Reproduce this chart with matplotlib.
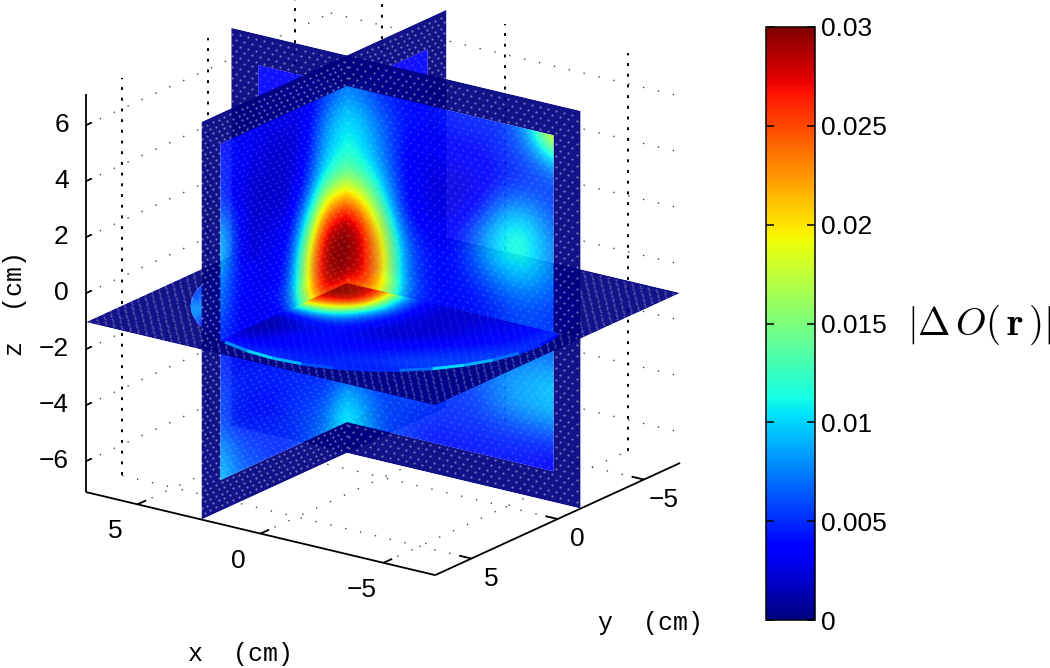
import numpy as np
import matplotlib
matplotlib.use('Agg')
import matplotlib.pyplot as plt
from matplotlib.cm import ScalarMappable
from matplotlib.collections import LineCollection
from matplotlib.colors import Normalize
from matplotlib.patches import PathPatch
from matplotlib.path import Path
from matplotlib.transforms import Affine2D

plt.rcParams['font.family'] = ['Liberation Sans', 'DejaVu Sans']
plt.rcParams['mathtext.fontset'] = 'cm'

# slice values, in units of 0.001
# rows z = 6..-6, columns y = 6..-6
slice_x = [
    [4, 4, 3, 3, 3, 3, 5, 7, 7, 4, 4, 4, 4],
    [5, 4, 3, 2, 2, 3, 8, 10, 10, 4, 3, 3, 3],
    [5, 3, 2, 2, 2, 4, 9, 11, 11, 4, 3, 3, 3],
    [9, 4, 2, 2, 2, 5, 12, 13, 13, 4, 3, 3, 3],
    [11, 4, 2, 3, 3, 10, 22, 23, 22, 5, 3, 3, 3],
    [8, 4, 3, 3, 4, 17, 29, 30, 30, 5, 3, 3, 3],
    [7, 4, 3, 3, 6, 20, 30, 30, 30, 5, 3, 3, 3],
    [5, 4, 3, 3, 5, 18, 29, 29, 29, 4, 3, 3, 3],
    [5, 4, 4, 4, 4, 6, 9, 10, 10, 4, 3, 3, 3],
    [6, 5, 5, 5, 5, 5, 5, 5, 5, 4, 4, 4, 4],
    [6, 4, 4, 4, 5, 5, 5, 5, 5, 4, 4, 4, 4],
    [9, 6, 5, 5, 5, 6, 6, 9, 9, 4, 4, 4, 4],
    [10, 7, 6, 5, 5, 6, 8, 11, 11, 4, 4, 4, 4],
]
# rows z = 6..-6, columns x = 6..-6
slice_y = [
    [4, 4, 4, 7, 7, 5, 4, 4, 5, 5, 5, 9, 22],
    [3, 3, 3, 10, 10, 7, 4, 4, 4, 4, 5, 6, 9],
    [3, 3, 3, 11, 11, 8, 3, 3, 3, 3, 4, 5, 5],
    [3, 3, 3, 13, 13, 10, 3, 3, 2, 3, 8, 9, 6],
    [3, 3, 3, 22, 22, 14, 3, 3, 3, 7, 12, 12, 7],
    [3, 3, 4, 30, 30, 20, 6, 4, 4, 8, 11, 11, 7],
    [3, 3, 4, 30, 30, 22, 7, 4, 4, 5, 7, 7, 6],
    [3, 3, 4, 29, 29, 22, 6, 4, 4, 4, 5, 6, 5],
    [3, 3, 4, 9, 9, 6, 4, 4, 4, 5, 6, 7, 7],
    [3, 3, 3, 5, 5, 5, 5, 5, 5, 6, 8, 9, 10],
    [3, 3, 3, 5, 5, 5, 6, 6, 5, 6, 8, 9, 9],
    [3, 3, 3, 9, 9, 6, 6, 5, 5, 5, 5, 5, 5],
    [3, 3, 3, 11, 11, 6, 5, 4, 4, 4, 4, 4, 3],
]
# rows y = 6..-6, columns x = 6..-6
slice_z = [
    [3, 3, 3, 4, 5, 5, 5, 5, 5, 4, 3, 3, 3],
    [3, 8, 6, 2, 2, 3, 4, 4, 5, 5, 5, 3, 3],
    [3, 10, 6, 1, 1, 3, 4, 4, 4, 5, 6, 6, 3],
    [5, 9, 4, 1, 1, 2, 3, 3, 3, 4, 5, 6, 5],
    [6, 5, 3, 3, 6, 6, 5, 2, 2, 3, 4, 5, 6],
    [6, 4, 3, 22, 22, 16, 6, 3, 2, 2, 3, 4, 5],
    [6, 3, 3, 30, 30, 28, 10, 3, 2, 2, 3, 3, 5],
    [6, 3, 3, 30, 30, 28, 8, 3, 2, 2, 3, 3, 5],
    [6, 3, 3, 28, 28, 26, 6, 3, 2, 2, 2, 3, 5],
    [5, 3, 3, 5, 5, 4, 3, 3, 3, 3, 3, 3, 5],
    [4, 3, 3, 3, 3, 3, 3, 3, 3, 3, 3, 4, 4],
    [3, 3, 3, 3, 3, 3, 3, 3, 3, 3, 4, 4, 3],
    [3, 3, 3, 3, 3, 3, 3, 3, 3, 3, 3, 3, 3],
]
# bright rim along the near edge of the disk
rim_angle = [70, 80, 90, 100, 110, 120, 130, 140, 150, 160, 170, 180, 190]
rim_value = [8, 10, 9, 6, 5, 5, 7, 10, 9, 7, 5, 4, 3]

slice_pos_x = 2.4
slice_pos_y = -1.33
slice_pos_z = -1.03
disk_radius = 6.4
lim = 7.1

x_ticks = [5, 0, -5]
y_ticks = [5, 0, -5]
z_ticks = [6, 4, 2, 0, -2, -4, -6]
cbar_ticks = [0, 0.005, 0.01, 0.015, 0.02, 0.025, 0.03]
cbar_labels = ['0', '0.005', '0.01', '0.015', '0.02', '0.025', '0.03']


def project(x, y, z):
    # fixed orthographic view, result in figure pixels
    sx = 383 - 24.6 * np.asarray(x, float) - 17.25 * np.asarray(y, float)
    sy = 278.7 - 5.85 * np.asarray(x, float) + 7.9 * np.asarray(y, float) - 28 * np.asarray(z, float)
    return sx, sy


def plane_point(axis, u, v):
    # plane coordinates (u, v) to pixels
    if axis == 'x':
        return project(slice_pos_x, u, v)
    if axis == 'y':
        return project(u, slice_pos_y, v)
    return project(u, v, slice_pos_z)


def closed_path(axis, poly):
    sx, sy = plane_point(axis, *np.array(poly).T)
    return Path(list(zip(sx, sy)) + [(sx[0], sy[0])], closed=True)


def clip_poly(poly, u0, u1, v0, v1):
    # cut a convex polygon down to a rectangle
    for k, limit, sign in [(0, u0, 1), (0, u1, -1), (1, v0, 1), (1, v1, -1)]:
        out = []
        for i in range(len(poly)):
            a, b = poly[i], poly[(i + 1) % len(poly)]
            ina = sign * (a[k] - limit) >= 0
            inb = sign * (b[k] - limit) >= 0
            if ina:
                out.append(a)
            if ina != inb:
                t = (limit - a[k]) / (b[k] - a[k])
                out.append((a[0] + t * (b[0] - a[0]), a[1] + t * (b[1] - a[1])))
        poly = out
    return poly


def draw_piece(ax, axis, grid, u0, u1, v0, v1, order):
    # one quadrant of a slice: dark rim, data image, stipple from the mesh
    alpha = 0.93
    if axis == 'z':
        ang = np.linspace(0, 2 * np.pi, 150, endpoint=False)
        hole = [(disk_radius * np.cos(a), disk_radius * np.sin(a)) for a in ang]
    else:
        hole = [(-6, -6), (6, -6), (6, 6), (-6, 6)]
    outer = [(-lim, -lim), (-lim, lim), (lim, lim), (lim, -lim)]  # opposite way round to the hole
    quad = closed_path(axis, [(u0, v0), (u1, v0), (u1, v1), (u0, v1)])

    # dark part of the plane, cut to this quadrant
    ring = Path.make_compound_path(closed_path(axis, outer), closed_path(axis, hole))
    patch = PathPatch(ring, facecolor=plt.cm.jet(0.0), edgecolor='none', alpha=alpha, zorder=order)
    ax.add_patch(patch)
    patch.set_clip_path(quad, transform=ax.transData)

    # image of the slice, placed by an affine map from plane coordinates
    ox, oy = plane_point(axis, 0.0, 0.0)
    ux, uy = plane_point(axis, 1.0, 0.0)
    vx, vy = plane_point(axis, 0.0, 1.0)
    tr = Affine2D(np.array([[ux - ox, vx - ox, ox], [uy - oy, vy - oy, oy], [0, 0, 1]]))
    im = ax.imshow(np.array(grid) * 1e-3, cmap='jet', vmin=0, vmax=0.03, origin='upper',
                   extent=(6.5, -6.5, -6.5, 6.5),
                   interpolation='bicubic', interpolation_stage='data', alpha=alpha,
                   aspect='auto', zorder=order + 0.1, transform=tr + ax.transData)
    im.set_clip_path(closed_path(axis, clip_poly(hole, u0, u1, v0, v1)), transform=ax.transData)

    # stipple, stronger on the dark rim than over the data
    step_u = 0.33
    step_v = 0.2
    uu, vv = np.meshgrid(np.arange(-lim, lim, step_u), np.arange(-lim, lim, step_v))
    uu = uu + step_u / 2 * (np.arange(uu.shape[0])[:, None] % 2)
    keep = (uu > min(u0, u1)) & (uu < max(u0, u1)) & (vv > min(v0, v1)) & (vv < max(v0, v1))
    uu, vv = uu[keep], vv[keep]
    in_data = Path(hole + [hole[0]]).contains_points(np.c_[uu, vv])
    dx, dy = plane_point(axis, uu, vv)
    rim_a = 0.42 if axis != 'z' else 0.25
    data_a = 0.14 if axis != 'z' else 0.06
    ax.scatter(dx[~in_data], dy[~in_data], s=2.5, c='white', alpha=rim_a, linewidths=0, zorder=order + 0.2)
    ax.scatter(dx[in_data], dy[in_data], s=2.5, c='white', alpha=data_a, linewidths=0, zorder=order + 0.2)


fig = plt.figure(figsize=(10.5, 6.68), dpi=100)
ax = fig.add_axes([0, 0, 1, 1])

# grid on the two back walls and the floor
grid_style = dict(color='#444444', lw=1.0, ls=(0, (1, 10)), zorder=1)
vert_style = dict(color='black', lw=1.4, ls=(0, (1.5, 4)), zorder=1)
for zt in z_ticks:
    ax.plot(*project([lim, lim], [lim, -lim], [zt, zt]), **grid_style)
    ax.plot(*project([lim, -lim], [-lim, -lim], [zt, zt]), **grid_style)
for yt in y_ticks:
    ax.plot(*project([lim, lim], [yt, yt], [-lim, lim]), **vert_style)
    ax.plot(*project([lim, -lim], [yt, yt], [-lim, -lim]), **grid_style)
for xt in x_ticks:
    ax.plot(*project([xt, xt], [-lim, -lim], [-lim, lim]), **vert_style)
    ax.plot(*project([xt, xt], [lim, -lim], [-lim, -lim]), **grid_style)

# box edges and ticks
edge_style = dict(color='black', lw=1.3, zorder=2, solid_capstyle='butt')
ax.plot(*project([lim, lim], [lim, lim], [-lim, lim]), **edge_style)
ax.plot(*project([lim, -lim], [lim, lim], [-lim, -lim]), **edge_style)
ax.plot(*project([-lim, -lim], [lim, -lim], [-lim, -lim]), **edge_style)
for zt in z_ticks:
    ax.plot(*project([lim, lim], [lim, lim - 0.35], [zt, zt]), **edge_style)
    sx, sy = project(lim, lim, zt)
    ax.text(sx - 17, sy, str(zt).replace('-', '\u2212'), ha='right', va='center', fontsize=19)
for xt in x_ticks:
    ax.plot(*project([xt, xt], [lim, lim - 0.5], [-lim, -lim]), **edge_style)
    sx, sy = project(xt, lim, -lim)
    ax.text(sx - 22, sy + 27, str(xt).replace('-', '\u2212'), ha='center', va='center', fontsize=19)
for yt in y_ticks:
    ax.plot(*project([-lim, -lim + 0.5], [yt, yt], [-lim, -lim]), **edge_style)
    sx, sy = project(-lim, yt, -lim)
    ax.text(sx + 20, sy + 20, str(yt).replace('-', '\u2212'), ha='center', va='center', fontsize=19)

ax.text(240, 654, 'x  (cm)', family='Liberation Mono', fontsize=18, ha='center', va='center')
ax.text(651, 623, 'y  (cm)', family='Liberation Mono', fontsize=18, ha='center', va='center')
ax.text(15, 303, 'z  (cm)', family='Liberation Mono', fontsize=18, ha='center', va='center', rotation=90)

# split the slices where they cross and paint far to near
view = {'x': -483, 'y': 689, 'z': 295}
positions = {'x': slice_pos_x, 'y': slice_pos_y, 'z': slice_pos_z}
grids = {'x': slice_x, 'y': slice_y, 'z': slice_z}
other_axes = {'x': ('y', 'z'), 'y': ('x', 'z'), 'z': ('x', 'y')}
pieces = []
for axis in 'xyz':
    ua, va = other_axes[axis]
    for u0, u1 in [(-lim, positions[ua]), (positions[ua], lim)]:
        for v0, v1 in [(-lim, positions[va]), (positions[va], lim)]:
            key = np.sign(u0 + u1 - 2 * positions[ua]) * view[ua] + np.sign(v0 + v1 - 2 * positions[va]) * view[va]
            pieces.append((key, axis, u0, u1, v0, v1))
pieces.sort(key=lambda p: p[0])
for i, (key, axis, u0, u1, v0, v1) in enumerate(pieces):
    draw_piece(ax, axis, grids[axis], u0, u1, v0, v1, 3 + i)

# rim of the disk on top of the nearest quadrant
t = np.radians(rim_angle)
rx, ry = project(disk_radius * np.cos(t), disk_radius * np.sin(t), slice_pos_z)
segs = [[(rx[i], ry[i]), (rx[i + 1], ry[i + 1])] for i in range(len(t) - 1)]
rim = LineCollection(segs, cmap='jet', norm=Normalize(0, 30), linewidths=2.2, zorder=20)
rim.set_array(np.array(rim_value[:-1], float))
ax.add_collection(rim)

ax.set_xlim(0, 1050)
ax.set_ylim(668, 0)
ax.axis('off')

# colorbar
cax = fig.add_axes([766 / 1050, 1 - 620 / 668, 49 / 1050, 593 / 668])
cbar = fig.colorbar(ScalarMappable(Normalize(0, 0.03), cmap='jet'), cax=cax)
cbar.set_ticks(cbar_ticks, labels=cbar_labels)
cax.tick_params(axis='y', direction='in', left=True, right=True, length=6, width=1.1,
                labelsize=19, pad=4)
cbar.outline.set_linewidth(1.1)
fig.text(979 / 1050, 1 - 325 / 668, r'$|\Delta\,O(\,\mathbf{r}\,)|$', fontsize=28, ha='center', va='center')

fig.savefig('out.png', dpi=100)
